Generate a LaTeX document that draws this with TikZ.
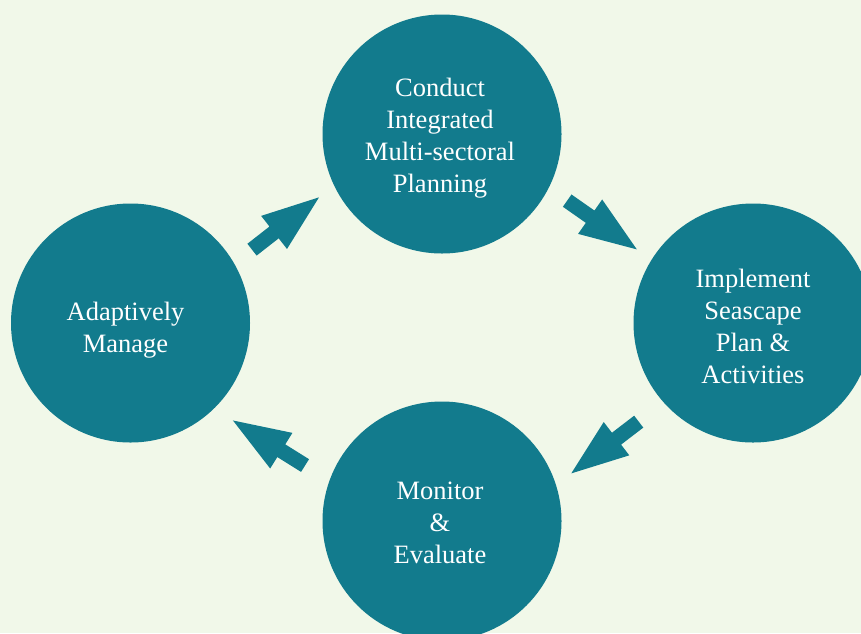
\documentclass[tikz,border=0pt]{standalone}
\usepackage{fontspec}
\setmainfont{Liberation Serif}
\definecolor{bg}{RGB}{241,248,233}
\definecolor{tealc}{RGB}{18,123,141}
\begin{document}
\begin{tikzpicture}[x=1pt,y=-1pt,
  stage/.style={circle, fill=tealc, minimum size=239pt, inner sep=0pt},
  stagetext/.style={text=white, inner sep=0pt, align=center,
    font=\fontsize{26.5}{32}\selectfont},
  blockarrow/.pic={\fill[tealc] (-42.5,-7.5) -- (-14.5,-7.5) -- (-14.5,-21) -- (42.5,0)
     -- (-14.5,21) -- (-14.5,7.5) -- (-42.5,7.5) -- cycle;}]
\useasboundingbox (0,0) rectangle (861,633);
\fill[bg] (0,0) rectangle (861,633);
\clip (0,0) rectangle (861,633);
\node[stage] (T) at (442,134) {};
\node[stage] (R) at (753,323) {};
\node[stage] (B) at (442,521) {};
\node[stage] (L) at (130.5,323) {};
\node[stagetext] (Tt) at ([shift={(-2,4)}]T.center) {Conduct\\Integrated\\Multi-sectoral\\Planning};
\node[stagetext] (Rt) at ([shift={(0,3)}]R.center) {Implement\\Seascape\\Plan \&\\Activities};
\node[stagetext] (Bt) at ([shift={(-2,2)}]B.center) {Monitor\\\&\\Evaluate};
\node[stagetext] (Lt) at ([shift={(-5,7)}]L.center) {Adaptively\\Manage};
\pic[rotate=38] at (285.5,223.5) {blockarrow};
\pic[rotate=-35] at (602,225) {blockarrow};
\pic[rotate=217.5] at (605,447.5) {blockarrow};
\pic[rotate=148] at (269,443) {blockarrow};
\end{tikzpicture}
\end{document}
